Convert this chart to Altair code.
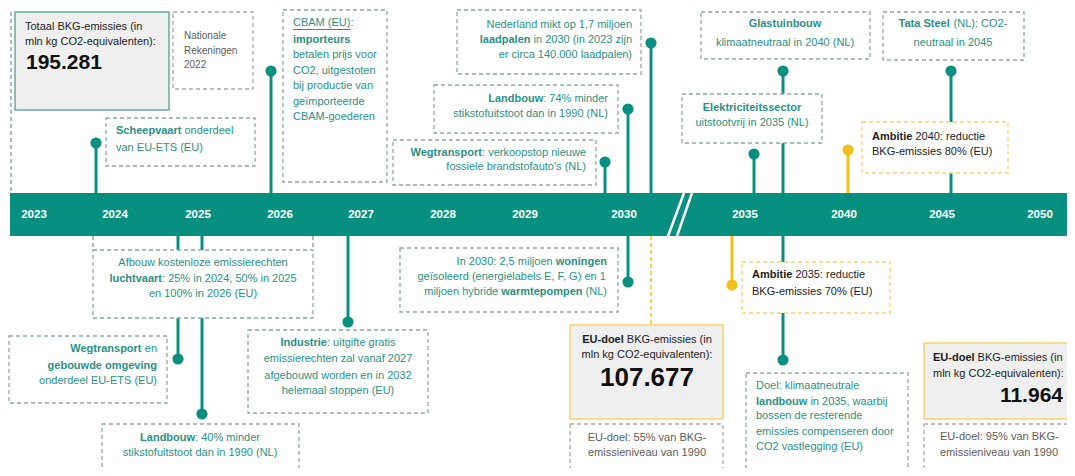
import altair as alt
import pandas as pd

# ---------------- colours & fonts ----------------
TEAL = "#07907f"
TEAL_TXT = "#2a9084"
YELLOW = "#f2c01c"
YELLOW_LINE = "#f4d46e"
GREY_FILL = "#efefef"
DASH_TEAL = "#8ea8a5"
DASH_GREY = "#a8a8a8"
DARK = "#1c1c1c"
GREY_TXT = "#5c5c5c"
FONT = "Liberation Sans, Arial, sans-serif"

# ---------------- data ----------------
YEARS = ["2023", "2024", "2025", "2026", "2027", "2028", "2029", "2030",
         "2035", "2040", "2045", "2050"]
YEAR_POS = [34, 115, 198, 280, 361, 443, 525, 624, 745, 844, 942, 1040]

TOTAL_TEXT = ["Totaal BKG-emissies (in", "mln kg CO2-equivalenten):"]
TOTAL_VALUE = "195.281"
SOURCE_TEXT = ["Nationale", "Rekeningen", "2022"]
SCHEEPVAART = ["**Scheepvaart** onderdeel", "van  EU-ETS (EU)"]
CBAM = ["CBAM (EU):", "**importeurs**", "betalen prijs voor", "CO2, uitgestoten",
        "bij  productie van", "geïmporteerde", "CBAM-goederen"]
LAADPALEN = ["Nederland mikt op 1,7 miljoen", "**laadpalen** in 2030 (in 2023 zijn",
             "er circa 140.000 laadpalen)"]
LANDBOUW74 = ["**Landbouw**: 74% minder", "stikstofuitstoot dan in 1990 (NL)"]
WEGTRANSPORT = ["**Wegtransport**: verkoopstop nieuwe", "fossiele brandstofauto's (NL)"]
GLASTUINBOUW = ["**Glastuinbouw**", "klimaatneutraal in 2040 (NL)"]
ELEKTRICITEIT = ["**Elektriciteitssector**", "uitstootvrij in 2035 (NL)"]
TATA = ["**Tata Steel** (NL): CO2-", "neutraal in 2045"]
AMBITIE2040 = ["**Ambitie** 2040: reductie", "BKG-emissies 80% (EU)"]
LUCHTVAART = ["Afbouw kostenloze emissierechten", "**luchtvaart**: 25% in 2024, 50% in 2025",
              "en 100% in 2026 (EU)"]
WEG_GEBOUWD = ["**Wegtransport** en", "**gebouwde omgeving**", "onderdeel EU-ETS (EU)"]
LANDBOUW40 = ["**Landbouw**: 40% minder", "stikstofuitstoot dan in 1990 (NL)"]
INDUSTRIE = ["**Industrie**: uitgifte gratis", "emissierechten zal vanaf 2027",
             "afgebouwd worden en in 2032", "helemaal stoppen (EU)"]
WONINGEN = ["In 2030: 2,5 miljoen **woningen**", "geïsoleerd (energielabels E, F, G) en 1",
            "miljoen hybride **warmtepompen** (NL)"]
EUDOEL2030 = ["**EU-doel** BKG-emissies (in", "mln kg CO2-equivalenten):"]
EUDOEL2030_VALUE = "107.677"
EU55 = ["EU-doel: 55% van BKG-", "emissieniveau van 1990"]
AMBITIE2035 = ["**Ambitie** 2035: reductie", "BKG-emissies 70% (EU)"]
LANDBOUW2035 = ["Doel: klimaatneutrale", "**landbouw** in 2035, waarbij", "bossen de resterende",
                "emissies compenseren door", "CO2 vastlegging (EU)"]
EUDOEL2050 = ["**EU-doel** BKG-emissies (in", "mln kg CO2-equivalenten):"]
EUDOEL2050_VALUE = "11.964"
EU95 = ["EU-doel: 95% van BKG-", "emissieniveau van 1990"]

# ---------------- text width helper (Arial metrics) ----------------
REG = {' ': 278, '!': 278, "'": 191, '(': 333, ')': 333, ',': 278, '-': 333, '.': 278,
       ':': 278, '%': 889, 'ï': 278}
BOLD = {' ': 278, '!': 333, "'": 238, '(': 333, ')': 333, ',': 278, '-': 333, '.': 278,
        ':': 333, '%': 889, 'ï': 278}
for d in "0123456789":
    REG[d] = 556
    BOLD[d] = 556
_up_r = dict(zip("ABCDEFGHIJKLMNOPQRSTUVWXYZ",
                 [667, 667, 722, 722, 667, 611, 778, 722, 278, 500, 667, 556, 833, 722, 778,
                  667, 778, 722, 667, 611, 722, 667, 944, 667, 667, 611]))
_lo_r = dict(zip("abcdefghijklmnopqrstuvwxyz",
                 [556, 556, 500, 556, 556, 278, 556, 556, 222, 222, 500, 222, 833, 556, 556,
                  556, 556, 333, 500, 278, 556, 500, 722, 500, 500, 500]))
_up_b = dict(zip("ABCDEFGHIJKLMNOPQRSTUVWXYZ",
                 [722, 722, 722, 722, 667, 611, 778, 722, 278, 556, 722, 611, 833, 722, 778,
                  667, 778, 722, 667, 611, 722, 667, 944, 667, 667, 611]))
_lo_b = dict(zip("abcdefghijklmnopqrstuvwxyz",
                 [556, 611, 556, 611, 556, 333, 611, 611, 278, 278, 556, 278, 889, 611, 611,
                  611, 611, 389, 556, 333, 611, 556, 778, 556, 556, 500]))
REG.update(_up_r); REG.update(_lo_r); BOLD.update(_up_b); BOLD.update(_lo_b)


def tw(s, bold=False, size=11.0):
    tab = BOLD if bold else REG
    return sum(tab.get(c, 556) for c in s) / 1000.0 * size


def parse(line):
    parts = line.split("**")
    return [(p, i % 2 == 1) for i, p in enumerate(parts) if p]


text_rows = []


def add_line(line, x, y, align, color, size=11.0):
    segs = parse(line)
    total = sum(tw(t, b, size) for t, b in segs)
    start = x if align == "left" else (x - total if align == "right" else x - total / 2)
    for t, b in segs:
        s = t.lstrip()
        lead = tw(t[:len(t) - len(s)], b, size)
        if s.strip():
            text_rows.append(dict(x=start + lead, y=y, text=s.rstrip(), color=color,
                                  size=size, grp="bold" if b else "reg"))
        start += tw(t, b, size)


def add_block(lines, x, ys, align, color, size=11.0):
    for ln, y in zip(lines, ys):
        add_line(ln, x, y, align, color, size)


# ---------------- layout ----------------
boxes = []


def box(x, y, x2, y2, stroke, fill="white", kind="dash"):
    boxes.append(dict(x=x, y=y, x2=x2, y2=y2, stroke=stroke, fill=fill, kind=kind))


box(15, 12, 169, 110, "#6aa9a2", GREY_FILL, "solid")
add_block(TOTAL_TEXT, 25, [27, 42], "left", DARK)
box(173, 12, 253, 89, DASH_GREY)
add_block(SOURCE_TEXT, 184, [36, 51, 65], "left", GREY_TXT, 10)
box(106, 118, 255, 166, DASH_TEAL)
add_block(SCHEEPVAART, 116, [131, 148], "left", TEAL_TXT)
box(283, 10, 387, 182, DASH_TEAL)
add_block(CBAM, 293, [23, 40, 55, 71, 86, 102, 117], "left", TEAL_TXT)
box(457, 10, 641, 74, DASH_TEAL)
add_block(LAADPALEN, 632, [25, 40, 55], "right", TEAL_TXT)
box(434, 85, 618, 133, DASH_TEAL)
add_block(LANDBOUW74, 608, [99, 114], "right", TEAL_TXT)
box(393, 140, 596, 185, DASH_TEAL)
add_block(WEGTRANSPORT, 586, [153, 167], "right", TEAL_TXT)
box(701, 12, 870, 59, DASH_TEAL)
add_block(GLASTUINBOUW, 785, [24, 43], "center", TEAL_TXT)
box(682, 94, 822, 143, DASH_TEAL)
add_block(ELEKTRICITEIT, 752, [108, 123], "center", TEAL_TXT)
box(883, 12, 1024, 60, DASH_TEAL)
add_block(TATA, 953, [24, 43], "center", TEAL_TXT)
box(862, 122, 1008, 173, YELLOW_LINE)
add_block(AMBITIE2040, 872, [137, 152], "left", DARK)

box(93, 250, 313, 318, DASH_TEAL)
add_block(LUCHTVAART, 203, [263, 279, 294], "center", TEAL_TXT)
box(9, 336, 167, 403, DASH_TEAL)
add_block(WEG_GEBOUWD, 157, [349, 366, 381], "right", TEAL_TXT)
box(102, 424, 299, 490, DASH_TEAL)
add_block(LANDBOUW40, 200, [438, 453], "center", TEAL_TXT)
box(248, 330, 428, 413, DASH_TEAL)
add_block(INDUSTRIE, 338, [343, 359, 376, 391], "center", TEAL_TXT)
box(400, 248, 618, 312, DASH_TEAL)
add_block(WONINGEN, 607, [262, 277, 292], "right", TEAL_TXT)
box(570, 325, 723, 419, YELLOW_LINE, GREY_FILL, "solid")
add_block(EUDOEL2030, 647, [340, 355], "center", DARK)
box(570, 424, 723, 490, DASH_GREY)
add_block(EU55, 647, [438, 453], "center", GREY_TXT)
box(742, 262, 890, 313, YELLOW_LINE)
add_block(AMBITIE2035, 752, [275, 292], "left", DARK)
box(746, 373, 908, 490, DASH_TEAL)
add_block(LANDBOUW2035, 756, [386, 402, 416, 432, 447], "left", TEAL_TXT)
box(924, 343, 1080, 419, YELLOW_LINE, GREY_FILL, "solid")
add_block(EUDOEL2050, 933, [358, 374], "left", DARK)
box(924, 424, 1080, 490, DASH_GREY)
add_block(EU95, 940, [437, 453], "left", GREY_TXT)

big = pd.DataFrame([
    dict(x=26, y=63, text=TOTAL_VALUE, align="left", size=21),
    dict(x=647, y=378, text=EUDOEL2030_VALUE, align="center", size=26),
    dict(x=1063, y=396, text=EUDOEL2050_VALUE, align="right", size=21),
])

stems = pd.DataFrame([
    dict(x=96, y=143, y2=193, c=TEAL), dict(x=271, y=71, y2=193, c=TEAL),
    dict(x=651, y=43, y2=193, c=TEAL), dict(x=628, y=109, y2=193, c=TEAL),
    dict(x=605, y=162, y2=193, c=TEAL), dict(x=783, y=71, y2=193, c=TEAL),
    dict(x=754, y=154, y2=193, c=TEAL), dict(x=951, y=71, y2=193, c=TEAL),
    dict(x=848, y=150, y2=193, c=YELLOW),
    dict(x=178, y=236, y2=359, c=TEAL), dict(x=202, y=236, y2=414, c=TEAL),
    dict(x=348, y=236, y2=322, c=TEAL), dict(x=628, y=236, y2=282, c=TEAL),
    dict(x=732, y=236, y2=285, c=YELLOW), dict(x=783, y=236, y2=360, c=TEAL),
])
dots = stems.copy()
dots["y"] = [143, 71, 43, 109, 162, 71, 154, 71, 150, 359, 414, 322, 282, 285, 360]

dashed_lines = pd.DataFrame([
    dict(x=651, y=236, y2=325, c=YELLOW),
    dict(x=11, y=12, y2=193, c=DASH_TEAL),
    dict(x=93, y=236, y2=250, c=DASH_TEAL),
    dict(x=313, y=236, y2=250, c=DASH_TEAL),
])

underline = pd.DataFrame([dict(x=293, x2=293 + tw("CBAM (EU)"), y=29.5)])
band = pd.DataFrame([dict(x=10, x2=1067, y=193, y2=236)])
years = pd.DataFrame(dict(x=YEAR_POS, y=[215] * len(YEARS), text=YEARS))
breaks = pd.DataFrame([dict(x=668, x2=684, y=236, y2=193), dict(x=677, x2=692, y=236, y2=193)])

txt = pd.DataFrame(text_rows)
bx = pd.DataFrame(boxes)

# ---------------- chart ----------------
X = alt.X("x:Q", scale=alt.Scale(domain=[8, 1067], nice=False, zero=False), axis=None)
Y = alt.Y("y:Q", scale=alt.Scale(domain=[468, 8], nice=False, zero=False), axis=None)

layers = []
layers.append(alt.Chart(band).mark_rect(color=TEAL).encode(x=X, x2="x2:Q", y=Y, y2="y2:Q"))
layers.append(alt.Chart(stems).mark_rule(strokeWidth=3).encode(
    x=X, y=Y, y2="y2:Q", color=alt.Color("c:N", scale=None)))
layers.append(alt.Chart(dashed_lines).mark_rule(strokeWidth=1.5, strokeDash=[4, 3]).encode(
    x=X, y=Y, y2="y2:Q", color=alt.Color("c:N", scale=None)))
layers.append(alt.Chart(bx[bx.kind == "dash"]).mark_rect(strokeWidth=1.3, strokeDash=[4, 3]).encode(
    x=X, x2="x2:Q", y=Y, y2="y2:Q",
    fill=alt.Fill("fill:N", scale=None), stroke=alt.Stroke("stroke:N", scale=None)))
layers.append(alt.Chart(bx[bx.kind == "solid"]).mark_rect(strokeWidth=1.5).encode(
    x=X, x2="x2:Q", y=Y, y2="y2:Q",
    fill=alt.Fill("fill:N", scale=None), stroke=alt.Stroke("stroke:N", scale=None)))
layers.append(alt.Chart(dots).mark_circle(size=125, opacity=1).encode(
    x=X, y=Y, color=alt.Color("c:N", scale=None)))
for grp, weight in [("reg", "normal"), ("bold", "bold")]:
    layers.append(alt.Chart(txt[txt.grp == grp]).mark_text(
        align="left", baseline="middle", font=FONT, fontWeight=weight).encode(
        x=X, y=Y, text="text:N", color=alt.Color("color:N", scale=None),
        size=alt.Size("size:Q", scale=None)))
layers.append(alt.Chart(underline).mark_rule(strokeWidth=1, color=TEAL_TXT).encode(
    x=X, x2="x2:Q", y=Y))
for i in range(len(big)):
    r = big.iloc[i]
    layers.append(alt.Chart(big.iloc[[i]]).mark_text(
        align=r["align"], baseline="middle", fontWeight="bold", color="#111111",
        font=FONT, fontSize=float(r["size"])).encode(x=X, y=Y, text="text:N"))
layers.append(alt.Chart(years).mark_text(
    align="center", baseline="middle", font=FONT, fontWeight="bold",
    fontSize=11.5, color="white").encode(x=X, y=Y, text="text:N"))
layers.append(alt.Chart(breaks).mark_rule(strokeWidth=2.5, color="white").encode(
    x=X, x2="x2:Q", y=Y, y2="y2:Q"))

chart = alt.layer(*layers).properties(
    width=1059, height=460, padding=0,
    autosize=alt.AutoSizeParams(type="none"),
    background="white",
).configure_view(stroke=None)

chart.save("out.html", embed_options={"renderer": "svg", "actions": False})
